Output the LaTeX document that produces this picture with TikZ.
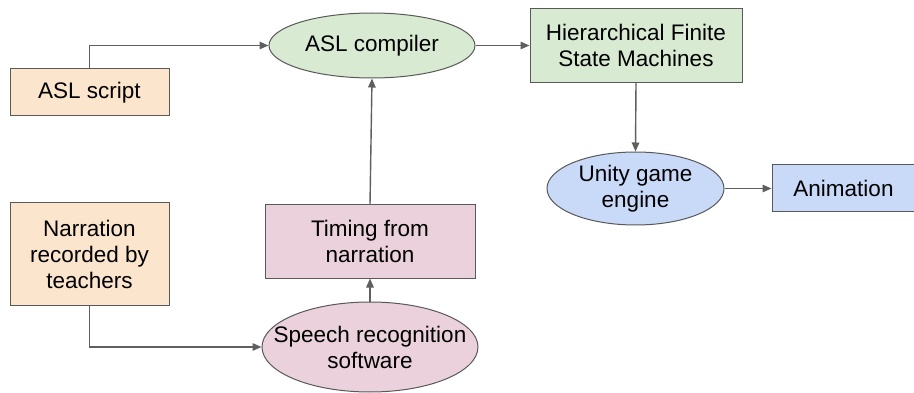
\documentclass[tikz,border=0pt]{standalone}
\usepackage{fontspec}
\setmainfont{Liberation Sans}
\usetikzlibrary{shapes.geometric,arrows.meta}
\definecolor{borderc}{HTML}{595959}
\definecolor{arrowc}{HTML}{5F5F5F}
\definecolor{orangef}{HTML}{FCE5CD}
\definecolor{greenf}{HTML}{D9EAD3}
\definecolor{pinkf}{HTML}{EAD1DC}
\definecolor{bluef}{HTML}{C9DAF8}
\tikzset{
  txt/.style={align=center, inner sep=0pt, font=\fontsize{22.5}{26}\selectfont},
  boxn/.style={txt, draw=borderc, line width=1pt, rectangle},
  elln/.style={draw=borderc, line width=1pt, ellipse, inner sep=0pt},
  conn/.style={draw=arrowc, line width=1.4pt, -{Triangle[length=9pt,width=7.5pt]}},
}
\begin{document}
\begin{tikzpicture}[x=1pt,y=-1pt]
\useasboundingbox (0,0) rectangle (914,393);
\fill[white] (0,0) rectangle (914,393);
% nodes
\node[boxn, fill=orangef, minimum width=159pt, minimum height=47pt] (script) at (89.5,92.5) {ASL script};
\node[elln, fill=greenf, minimum width=206pt, minimum height=65pt] (compiler) at (372,45.5) {};
\node[txt] (compilert) at (compiler) {ASL compiler};
\node[boxn, fill=greenf, minimum width=212pt, minimum height=74pt] (hfsm) at (636,45.5) {Hierarchical Finite\\State Machines};
\node[elln, fill=bluef, minimum width=177pt, minimum height=73pt] (unity) at (635.5,188.5) {};
\node[txt] (unityt) at (unity) {Unity game\\engine};
\node[boxn, fill=bluef, minimum width=143pt, minimum height=47pt] (anim) at (843.5,188.5) {Animation};
\node[boxn, fill=orangef, minimum width=159pt, minimum height=102pt] (narr) at (89.5,254) {Narration\\recorded by\\teachers};
\node[boxn, fill=pinkf, minimum width=210pt, minimum height=73pt] (timing) at (370,241.5) {Timing from\\narration};
\node[elln, fill=pinkf, minimum width=216pt, minimum height=90pt] (speech) at (370,347) {};
\node[txt] (speecht) at (speech) {Speech recognition\\software};
% connectors
\draw[conn] (script.north) |- (compiler.west);
\draw[conn] (compiler.east) -- (hfsm.west);
\draw[conn] (hfsm.south) -- (unity.north);
\draw[conn] (unity.east) -- (anim.west);
\draw[conn] (narr.south) |- (speech.west);
\draw[conn] (speech.north) -- (timing.south);
\draw[conn] (timing.north) -- (compiler.south);
\end{tikzpicture}
\end{document}
